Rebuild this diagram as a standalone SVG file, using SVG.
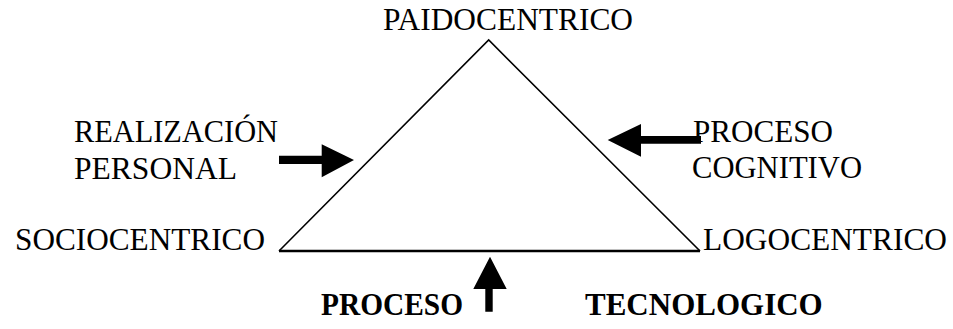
<svg xmlns="http://www.w3.org/2000/svg" width="953" height="329" viewBox="0 0 953 329">
<style>
.t{font-family:"Liberation Serif","Times New Roman",serif;font-size:31px;fill:#000}
.b{font-weight:bold}
.tri{fill:none;stroke:#000;stroke-width:1.6}
.arrow{fill:#000;stroke:none}
</style>
<rect width="953" height="329" fill="#fff"/>
<g id="triangle">
<path class="tri" d="M279,251 L488.7,40 L700,251"/>
<line x1="279" y1="251" x2="700" y2="251" stroke="#000" stroke-width="2.6"/>
</g>
<g id="paidocentrico"><text class="t" x="383" y="29.5" textLength="250" lengthAdjust="spacingAndGlyphs">PAIDOCENTRICO</text></g>
<g id="sociocentrico"><text class="t" x="15" y="250" textLength="250" lengthAdjust="spacingAndGlyphs">SOCIOCENTRICO</text></g>
<g id="logocentrico"><text class="t" x="703" y="250" textLength="244" lengthAdjust="spacingAndGlyphs">LOGOCENTRICO</text></g>
<g id="realizacion"><text class="t" x="74" y="142" textLength="204" lengthAdjust="spacingAndGlyphs">REALIZACIÓN</text><text class="t" x="74" y="178.5" textLength="163" lengthAdjust="spacingAndGlyphs">PERSONAL</text></g>
<g id="cognitivo"><text class="t" x="693" y="141.7" textLength="140" lengthAdjust="spacingAndGlyphs">PROCESO</text><text class="t" x="692" y="178.3" textLength="170" lengthAdjust="spacingAndGlyphs">COGNITIVO</text></g>
<g id="tecnologico"><text class="t b" x="321" y="315" textLength="142" lengthAdjust="spacingAndGlyphs">PROCESO</text><text class="t b" x="585" y="315">TECNOLOGICO</text></g>
<g id="connectors">
<path class="arrow" d="M279,155.7 L321.7,155.7 L321.7,144.3 L354,160 L321.7,177.3 L321.7,164 L279,164 Z"/>
<path class="arrow" d="M701,136 L641,136 L641,124 L607.7,140 L641,156.7 L641,143.7 L701,143.7 Z"/>
<path class="arrow" d="M485.3,311.7 L485.3,289 L473.3,289 L490,256.7 L506.7,289 L492.7,289 L492.7,311.7 Z"/>
</g>
</svg>
